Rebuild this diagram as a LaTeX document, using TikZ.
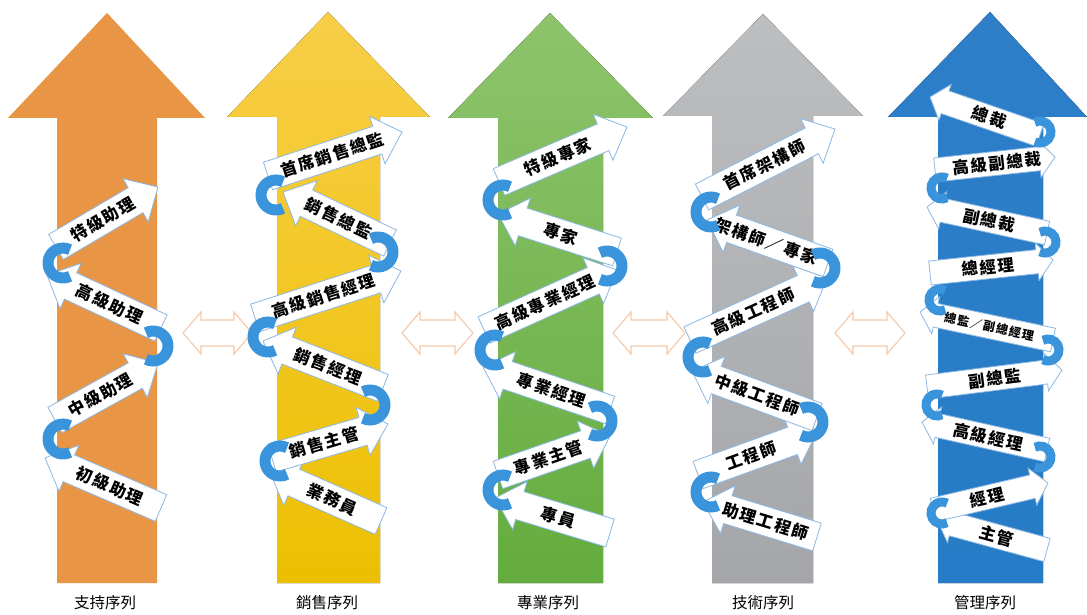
\documentclass[tikz,border=0pt]{standalone}
\usepackage{fontspec}
\newfontfamily\cjk{Noto Sans CJK TC}
\newfontfamily\cjks{Noto Sans CJK TC}[LetterSpace=10]
\definecolor{c1}{RGB}{232,150,70}
\definecolor{c2t}{RGB}{248,206,72}
\definecolor{c2b}{RGB}{236,192,0}
\definecolor{c3t}{RGB}{142,196,108}
\definecolor{c3b}{RGB}{100,172,62}
\definecolor{c4t}{RGB}{188,190,192}
\definecolor{c4b}{RGB}{164,166,170}
\definecolor{c5t}{RGB}{46,126,200}
\definecolor{c5b}{RGB}{38,124,198}
\definecolor{arrowedge}{RGB}{140,184,228}
\definecolor{curlblue}{RGB}{58,148,219}
\definecolor{dblorange}{RGB}{246,200,168}
\newcommand\bigarrow[8]{%
  \fill[#8] (#1,583) -- (#1,#5) -- (#3,#5) -- (#6,#7) -- (#4,#5) -- (#2,#5) -- (#2,583) -- cycle;}
\newcommand\zz[7]{%
  \pgfmathsetmacro\zang{atan2(#3-#5,#4-#2)}%
  \pgfmathsetmacro\zlen{veclen(#4-#2,#5-#3)}%
  \pgfmathsetmacro\zflip{ifthenelse(#4>#2,0,180)}%
  \begin{scope}[shift={(#2,#3)},rotate=\zang]
    \draw[zarr] (0,{-\zw/2}) -- ({\zlen-\zhl},{-\zw/2}) -- ({\zlen-\zhl},{-\zhw/2}) -- (\zlen,0)
      -- ({\zlen-\zhl},{\zhw/2}) -- ({\zlen-\zhl},{\zw/2}) -- (0,{\zw/2}) -- cycle;
    \node[ztext, transform shape, rotate=\zflip] (#1) at ({#6*\zlen},0) {#7};
  \end{scope}}
\newcommand\curlL[2]{\draw[curl] (#1,#2) ++(62:\zr) arc[start angle=62,end angle=298,radius=\zr];}
\newcommand\curlR[2]{\draw[curl] (#1,#2) ++(-118:\zr) arc[start angle=-118,end angle=118,radius=\zr];}
\newcommand\dblarr[2]{%
  \draw[dbl] (#1,333) -- (#1+18,312) -- (#1+18,320) -- (#2-18,320) -- (#2-18,312) -- (#2,333)
    -- (#2-18,354) -- (#2-18,346) -- (#1+18,346) -- (#1+18,354) -- cycle;}
\begin{document}
\begin{tikzpicture}[x=1pt,y=-1pt,
  zarr/.style={draw=arrowedge, fill=white, line width=0.8pt, line join=miter},
  ztext/.style={font=\cjks\bfseries\fontsize{16.5}{16.5}\selectfont, inner sep=0pt, text=black},
  curl/.style={draw=curlblue, line width=\zlw pt},
  dbl/.style={draw=dblorange, line width=1.1pt, line join=miter},
  lbl/.style={font=\cjk\fontsize{15.5}{15.5}\selectfont, text=black, inner sep=0pt}]
\useasboundingbox (0,0) rectangle (1087,615);
\fill[white] (0,0) rectangle (1087,615);
% big arrows
\bigarrow{57}{157}{8}{205}{118}{107}{13}{c1}
\bigarrow{277}{380}{227}{430}{117}{328}{12}{top color=c2t,bottom color=c2b}
\bigarrow{498}{603}{448}{653}{118}{550}{13}{top color=c3t,bottom color=c3b}
\bigarrow{712}{813}{663}{863}{116}{763}{14}{top color=c4t,bottom color=c4b}
\bigarrow{938}{1043}{888}{1087}{117}{990}{12}{top color=c5t,bottom color=c5b}
% double arrows
\dblarr{183}{252}
\dblarr{402}{473}
\dblarr{613}{685}
\dblarr{835}{905}
% column 1
\def\zw{29}\def\zhw{50}\def\zhl{26}\def\zr{15}\def\zlw{11}
\zz{a1}{161}{508}{45}{458}{0.44}{初級助理}
\zz{a2}{55}{420}{158}{363}{0.44}{中級助理}
\zz{a3}{161}{328}{47}{275}{0.45}{高級助理}
\zz{a4}{56}{247}{158}{187}{0.46}{特級助理}
\curlL{63}{439}\curlR{153}{346}\curlL{63}{263}
% column 2
\zz{b1}{381}{521}{270}{472}{0.44}{業務員}
\zz{b2}{272}{458}{388}{424}{0.45}{銷售主管}
\zz{b3}{383}{388}{263}{341}{0.46}{銷售經理}
\zz{b4}{255}{318}{401}{271}{0.47}{高級銷售經理}
\zz{b5}{390}{243}{283}{192}{0.48}{銷售總監}
\zz{b6}{268}{176}{402}{132}{0.48}{首席銷售總監}
\curlL{280}{461}\curlR{370}{405}\curlL{268}{337}\curlR{378}{252}\curlL{276}{195}
% column 3
\zz{c1}{610}{533}{495}{498}{0.45}{專員}
\zz{c2}{498}{475}{610}{436}{0.45}{專業主管}
\zz{c3}{610}{410}{483}{367}{0.46}{專業經理}
\zz{c4}{484}{330}{617}{270}{0.46}{高級專業經理}
\zz{c5}{617}{252}{498}{214}{0.47}{專家}
\zz{c6}{499}{182}{627}{127}{0.46}{特級專家}
\curlL{503}{490}\curlR{597}{421}\curlL{495}{350}\curlR{607}{266}\curlL{503}{200}
% column 4
\zz{d1}{817}{537}{703}{502}{0.45}{助理工程師}
\zz{d2}{698}{475}{817}{432}{0.45}{工程師}
\zz{d3}{817}{417}{692}{371}{0.48}{中級工程師}
\zz{d4}{690}{340}{827}{278}{0.46}{高級工程師}
\zz{d5}{828}{263}{707}{220}{0.51}{架構師／專家}
\zz{d6}{702}{197}{835}{129}{0.47}{首席架構師}
\curlL{711}{492}\curlR{808}{422}\curlL{703}{357}\curlR{820}{268}\curlL{711}{212}
% column 5
\def\zw{24}\def\zhw{38}\def\zhl{16}\def\zr{11}\def\zlw{9}
\zz{e1}{1047}{550}{937}{520}{0.46}{主管}
\zz{e2}{933}{510}{1048}{483}{0.47}{經理}
\zz{e3}{1047}{450}{922}{422}{0.47}{高級經理}
\zz{e4}{927}{387}{1062}{370}{0.5}{副總監}
\zz{e5}{1053}{340}{920}{312}{0.48}{{\fontsize{12}{12}\selectfont 總監／副總經理}}
\zz{e6}{930}{273}{1053}{260}{0.47}{總經理}
\zz{e7}{1047}{233}{927}{207}{0.48}{副總裁}
\zz{e8}{935}{170}{1055}{157}{0.52}{高級副總裁}
\zz{e9}{1040}{135}{930}{97}{0.46}{總裁}
\curlL{942}{513}\curlR{1040}{457}\curlL{937}{405}\curlR{1048}{350}\curlL{940}{300}\curlR{1045}{242}\curlL{942}{188}\curlR{1040}{132}
% labels
\node[lbl] (l1) at (105,603) {支持序列};
\node[lbl] (l2) at (327,603) {銷售序列};
\node[lbl] (l3) at (548,603) {專業序列};
\node[lbl] (l4) at (763,603) {技術序列};
\node[lbl] (l5) at (985,603) {管理序列};
\end{tikzpicture}
\end{document}
